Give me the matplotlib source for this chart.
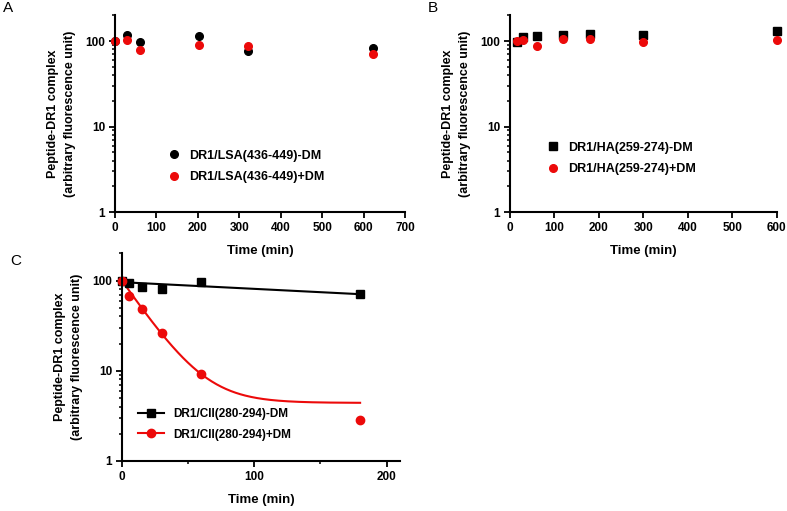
import matplotlib
matplotlib.use("Agg")
import matplotlib.pyplot as plt
import numpy as np

plt.rcParams['font.family'] = ['Liberation Sans', 'DejaVu Sans']

# Panel A: DR1/LSA(436-449)
a_time = [0, 30, 60, 203, 322, 622]
a_minus_dm = [100, 118, 98, 114, 76, 83]
a_plus_dm = [100, 102, 79, 89, 87.5, 71]

# Panel B: DR1/HA(259-274)
b_time = [15, 30, 60, 120, 180, 300, 600]
b_minus_dm = [98.5, 111, 115, 119, 122, 117.5, 130]
b_plus_dm = [99, 102, 87.5, 104.5, 105.5, 97.5, 102.5]

# Panel C: DR1/CII(280-294)
c_time = [0, 5, 15, 30, 60, 180]
c_minus_dm = [100, 94, 84, 81, 97.5, 70.6]
c_plus_dm = [100, 67, 48.6, 26.1, 9.1, 2.82]

# fitted decay curves shown in panel C (parameters)
c_fit_end = 180
minus_fit_y0, minus_fit_k = 96.0, 0.0017
plus_fit_top, plus_fit_plateau, plus_fit_k = 100.0, 4.4, 0.05

RED = '#ec0a0a'
ylabel = 'Peptide-DR1 complex\n(arbitrary fluorescence unit)'
tick_font = dict(fontsize=8.5, fontweight='bold')


def style_axis(ax, xmax, xstep):
    ax.set_yscale('log')
    ax.set_ylim(1, 200)
    ax.set_xlim(0, xmax)
    ax.set_yticks([1, 10, 100])
    ax.set_yticklabels(['1', '10', '100'], **tick_font)
    ticks = np.arange(0, xmax + 1, xstep)
    ax.set_xticks(ticks)
    ax.set_xticklabels([str(int(t)) for t in ticks], **tick_font)
    for s in ['top', 'right']:
        ax.spines[s].set_visible(False)
    for s in ['left', 'bottom']:
        ax.spines[s].set_linewidth(1.5)
    ax.tick_params(which='major', width=1.3, length=4, pad=3)
    ax.tick_params(which='minor', width=1.1, length=2.5)
    ax.tick_params(axis='x', which='minor', length=0)
    ax.set_ylabel(ylabel, fontsize=9, fontweight='bold', labelpad=7, linespacing=1.55)
    ax.set_xlabel('Time (min)', fontsize=9.5, fontweight='bold', labelpad=8)
    ax.patch.set_visible(False)


fig = plt.figure(figsize=(7.87, 5.11), dpi=100)

axA = fig.add_axes([0.146, 0.585, 0.369, 0.385])
axA.plot(a_time, a_minus_dm, 'o', color='black', ms=5.5, clip_on=False,
         label='DR1/LSA(436-449)-DM')
axA.plot(a_time, a_plus_dm, 'o', color=RED, ms=5.5, clip_on=False,
         label='DR1/LSA(436-449)+DM')
style_axis(axA, 700, 100)
axA.legend(loc='upper left', bbox_to_anchor=(0.14, 0.375), frameon=False,
           prop=dict(size=9, weight='bold'), handletextpad=0.6,
           labelspacing=0.75, handlelength=1.2)

axB = fig.add_axes([0.648, 0.585, 0.339, 0.385])
axB.plot(b_time, b_minus_dm, 's', color='black', ms=5.5, clip_on=False,
         label='DR1/HA(259-274)-DM')
axB.plot(b_time, b_plus_dm, 'o', color=RED, ms=5.5, clip_on=False,
         label='DR1/HA(259-274)+DM')
style_axis(axB, 600, 100)
axB.legend(loc='upper left', bbox_to_anchor=(0.09, 0.415), frameon=False,
           prop=dict(size=9, weight='bold'), handletextpad=0.6,
           labelspacing=0.75, handlelength=1.2)

axC = fig.add_axes([0.155, 0.098, 0.353, 0.406])
t = np.linspace(0, c_fit_end, 200)
axC.plot(t, minus_fit_y0 * np.exp(-minus_fit_k * t), color='black', lw=1.5)
axC.plot(t, (plus_fit_top - plus_fit_plateau) * np.exp(-plus_fit_k * t) + plus_fit_plateau,
         color=RED, lw=1.5)
axC.plot(c_time, c_minus_dm, 's', color='black', ms=6, clip_on=False)
axC.plot(c_time, c_plus_dm, 'o', color=RED, ms=6, clip_on=False)
axC.plot([], [], 's-', color='black', ms=6, lw=1.5, label='DR1/CII(280-294)-DM')
axC.plot([], [], 'o-', color=RED, ms=6, lw=1.5, label='DR1/CII(280-294)+DM')
style_axis(axC, 210, 100)
axC.set_xticks([50, 150], minor=True)
axC.tick_params(axis='x', which='minor', length=2.5, width=1.1)
axC.legend(loc='upper left', bbox_to_anchor=(0.02, 0.305), frameon=False,
           prop=dict(size=8.5, weight='bold'), handletextpad=0.8,
           labelspacing=0.7, handlelength=2.2)

fig.text(0.004, 0.985, 'A', fontsize=11, va='center', ha='left')
fig.text(0.543, 0.985, 'B', fontsize=11, va='center', ha='left')
fig.text(0.013, 0.49, 'C', fontsize=11, va='center', ha='left')

fig.savefig('out.png', dpi=100)
